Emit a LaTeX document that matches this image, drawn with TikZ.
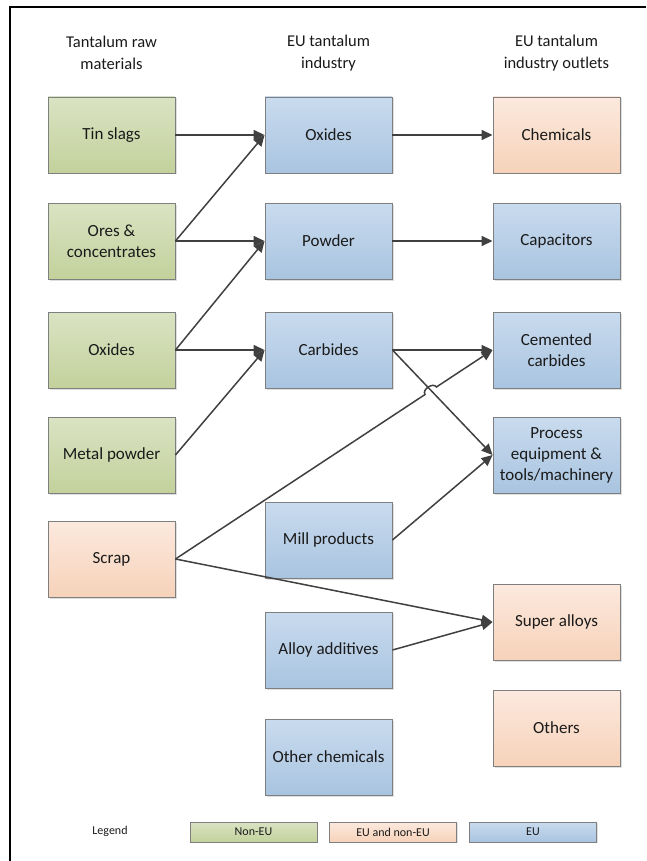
\documentclass[tikz,border=0pt]{standalone}
\usepackage{fontspec}
\setmainfont{Carlito}
\usetikzlibrary{arrows.meta,shadows,calc}
\definecolor{grnT}{HTML}{DAE3C3}
\definecolor{grnB}{HTML}{C3D19C}
\definecolor{orgT}{HTML}{FCE9DE}
\definecolor{orgB}{HTML}{F6D2B9}
\definecolor{bluT}{HTML}{C9DBEE}
\definecolor{bluB}{HTML}{A9C4E0}
\definecolor{edgeC}{HTML}{7F7F7F}
\definecolor{arrC}{HTML}{404040}
\definecolor{txtC}{HTML}{1A1A1A}
\tikzset{
  box/.style={draw=edgeC, line width=0.9pt, minimum width=127pt, minimum height=76pt,
    align=center, inner sep=2pt, text=txtC, font=\fontsize{17}{21}\selectfont,
    drop shadow={shadow xshift=1.5pt, shadow yshift=-1.5pt, opacity=0.25, fill=gray}},
  nonEU/.style={box, top color=grnT, bottom color=grnB},
  both/.style={box, top color=orgT, bottom color=orgB},
  euB/.style={box, top color=bluT, bottom color=bluB},
  lgbox/.style={draw=edgeC, line width=0.9pt, minimum width=127pt, minimum height=20pt,
    inner sep=0pt, text=txtC, font=\fontsize{12}{14}\selectfont,
    drop shadow={shadow xshift=1.2pt, shadow yshift=-1.2pt, opacity=0.25, fill=gray}},
  head/.style={align=center, text=txtC, font=\fontsize{16.5}{22}\selectfont},
  flow/.style={draw=arrC, line width=1.5pt, -{Triangle[length=11pt,width=10pt]}},
  frameline/.style={draw=black, line width=2pt}
}
\begin{document}
\begin{tikzpicture}[x=1pt,y=-1pt]
\useasboundingbox (0,0) rectangle (646,861);
\draw[frameline] (646,7) -- (10,7) -- (10,861);

% headings
\node[head] (h1) at (111.5,53) {Tantalum raw\\materials};
\node[head] (h2) at (328.5,53) {EU tantalum\\industry};
\node[head] (h3) at (556.5,53) {EU tantalum\\industry outlets};

% left column
\node[nonEU] (tin)  at (111.5,135) {Tin slags};
\node[nonEU] (ores) at (111.5,241) {Ores \&\\concentrates};
\node[nonEU] (oxL)  at (111.5,350) {Oxides};
\node[nonEU] (metp) at (111.5,455) {Metal powder};
\node[both]  (scrap) at (111.5,559) {Scrap};

% middle column
\node[euB] (oxM)  at (328.5,135) {Oxides};
\node[euB] (pow)  at (328.5,241) {Powder};
\node[euB] (carb) at (328.5,350) {Carbides};
\node[euB] (mill) at (328.5,540) {Mill products};
\node[euB] (alloy) at (328.5,650) {Alloy additives};
\node[euB] (othc) at (328.5,757) {Other chemicals};

% right column
\node[both] (chem) at (556.5,135) {Chemicals};
\node[euB]  (cap)  at (556.5,241) {Capacitors};
\node[euB]  (cem)  at (556.5,350) {Cemented\\carbides};
\node[euB]  (proc) at (556.5,455) {Process\\equipment \&\\tools/machinery};
\node[both] (sup)  at (556.5,622) {Super alloys};
\node[both] (oth)  at (556.5,728) {Others};

% connectors
\draw[flow] (tin.east) -- (oxM.west);
\draw[flow] (ores.east) -- (oxM.west);
\draw[flow] (ores.east) -- (pow.west);
\draw[flow] (oxL.east) -- (pow.west);
\draw[flow] (oxL.east) -- (carb.west);
\draw[flow] (metp.east) -- (carb.west);
\draw[flow] (oxM.east) -- (chem.west);
\draw[flow] (pow.east) -- (cap.west);
\draw[flow] (carb.east) -- (cem.west);
\draw[flow] (carb.east) -- (proc.west);
\coordinate (hopA) at ($(scrap.east)!0.787!(cem.west)$);
\coordinate (hopB) at ($(scrap.east)!0.823!(cem.west)$);
\draw[flow] (scrap.east) -- (hopA)
  .. controls ($(hopA)!6pt!90:(hopB)$) and ($(hopB)!6pt!-90:(hopA)$) .. (hopB)
  -- (cem.west);
\draw[flow] (scrap.east) -- (sup.west);
\draw[flow] (mill.east) -- (proc.west);
\draw[flow] (alloy.east) -- (sup.west);

% legend
\node[text=txtC, font=\fontsize{12}{14}\selectfont] (leg) at (110,831) {Legend};
\node[lgbox, top color=grnT, bottom color=grnB] (l1) at (253.5,832) {Non-EU};
\node[lgbox, top color=orgT, bottom color=orgB] (l2) at (393,832) {EU and non-EU};
\node[lgbox, top color=bluT, bottom color=bluB] (l3) at (533,832) {EU};
\end{tikzpicture}
\end{document}
